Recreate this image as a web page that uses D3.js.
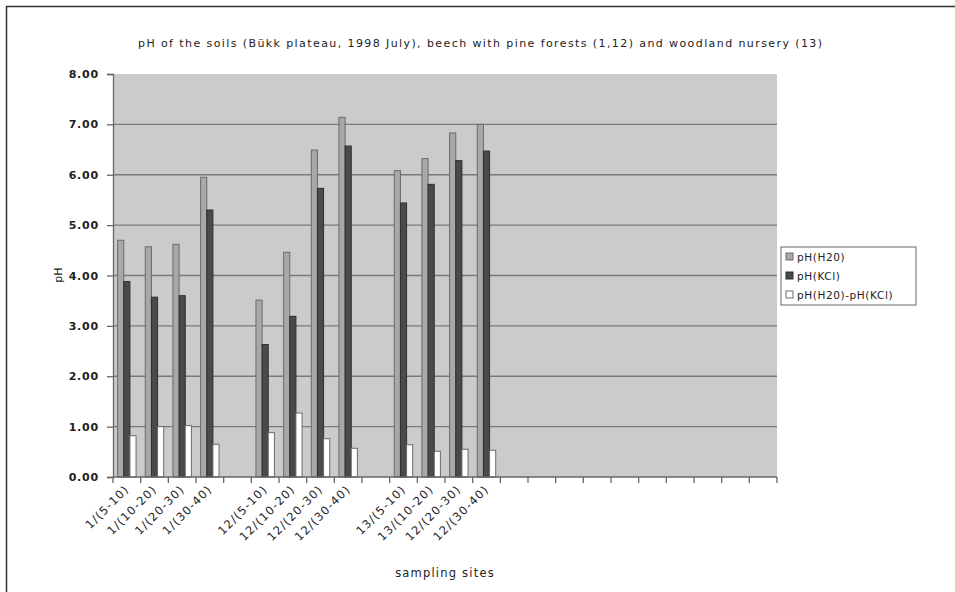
<!DOCTYPE html>
<html>
<head>
<meta charset="utf-8">
<script src="https://cdn.jsdelivr.net/npm/d3@7"></script>
<style>
  html, body { margin: 0; padding: 0; background: #fff; }
  svg { display: block; }
  text { font-family: "DejaVu Sans", Verdana, sans-serif; fill: #222; }
</style>
</head>
<body>
<script>
// Sampling sites (site / depth in cm); empty slots keep the gaps between sites
const categories = [
  "1/(5-10)", "1/(10-20)", "1/(20-30)", "1/(30-40)", "",
  "12/(5-10)", "12/(10-20)", "12/(20-30)", "12/(30-40)", "",
  "13/(5-10)", "13/(10-20)", "12/(20-30)", "12/(30-40)",
  "", "", "", "", "", "", "", "", "", ""
];
const phH2O = [4.70, 4.57, 4.62, 5.95, null, 3.51, 4.46, 6.49, 7.14, null, 6.08, 6.32, 6.83, 7.00];
const phKCl = [3.88, 3.57, 3.60, 5.30, null, 2.63, 3.19, 5.73, 6.57, null, 5.44, 5.81, 6.28, 6.47];
const phDiff = [0.82, 1.00, 1.02, 0.65, null, 0.88, 1.27, 0.76, 0.57, null, 0.64, 0.51, 0.55, 0.53];
const seriesNames = ["pH(H20)", "pH(KCl)", "pH(H20)-pH(KCl)"];
const yTicks = [0, 1, 2, 3, 4, 5, 6, 7, 8];

const W = 955, H = 592;
const plot = { left: 113, right: 777, top: 74, bottom: 477 };

const svg = d3.select("body").append("svg").attr("width", W).attr("height", H);

// outer chart frame
svg.append("path")
  .attr("d", `M6.5,${H + 5} V6.5 H${W + 5}`)
  .attr("fill", "none").attr("stroke", "#333").attr("stroke-width", 1.5);

const x = d3.scaleBand().domain(d3.range(categories.length))
  .range([plot.left, plot.right]).paddingInner(0).paddingOuter(0);
const y = d3.scaleLinear().domain([0, 8]).range([plot.bottom, plot.top]);

const seriesIdx = d3.range(3);
// bars take 3 of 4.5 bar-widths of each category (gap width 150%)
const barW = x.bandwidth() / 4.5;
const sub = d3.scaleBand().domain(seriesIdx)
  .range([barW * 0.75, barW * 3.75]);

// plot background
svg.append("rect")
  .attr("x", plot.left).attr("y", plot.top)
  .attr("width", plot.right - plot.left).attr("height", plot.bottom - plot.top)
  .attr("fill", "#cbcbcb");

// horizontal gridlines
svg.append("g").selectAll("line").data(yTicks.filter(t => t > 0 && t < 8)).join("line")
  .attr("x1", plot.left).attr("x2", plot.right)
  .attr("y1", d => y(d)).attr("y2", d => y(d))
  .attr("stroke", "#7a7a7a").attr("stroke-width", 1.3);

const series = [phH2O, phKCl, phDiff];
const fills = ["#a8a8a8", "#4a4a4a", "#ffffff"];
const strokes = ["#6a6a6a", "#2e2e2e", "#6a6a6a"];

series.forEach((vals, s) => {
  svg.append("g").selectAll("rect")
    .data(vals.map((v, i) => ({ v, i })).filter(d => d.v != null))
    .join("rect")
    .attr("x", d => x(d.i) + sub(s))
    .attr("width", sub.bandwidth())
    .attr("y", d => y(d.v))
    .attr("height", d => y(0) - y(d.v))
    .attr("fill", fills[s])
    .attr("stroke", strokes[s])
    .attr("stroke-width", 1);
});

// y axis
const yAxis = d3.axisLeft(y).tickValues(yTicks).tickFormat(d3.format(".2f"))
  .tickSize(6).tickPadding(8);
const gy = svg.append("g").attr("transform", `translate(${plot.left},0)`).call(yAxis);
gy.selectAll("path, line").attr("stroke", "#666").attr("stroke-width", 1.3);
gy.selectAll("text")
  .style("font-family", "'DejaVu Sans', Verdana, sans-serif")
  .attr("font-size", 11).attr("font-weight", "bold").attr("fill", "#555")
  .attr("letter-spacing", 0.8);

// x axis: ticks at category boundaries
const boundaries = d3.range(categories.length + 1).map(i => plot.left + i * x.bandwidth());
svg.append("line")
  .attr("x1", plot.left).attr("x2", plot.right)
  .attr("y1", plot.bottom).attr("y2", plot.bottom)
  .attr("stroke", "#666").attr("stroke-width", 1.3);
svg.append("g").selectAll("line").data(boundaries).join("line")
  .attr("x1", d => d).attr("x2", d => d)
  .attr("y1", plot.bottom).attr("y2", plot.bottom + 6)
  .attr("stroke", "#666").attr("stroke-width", 1.3);

// rotated category labels
svg.append("g").selectAll("text")
  .data(categories.map((c, i) => ({ c, i })).filter(d => d.c))
  .join("text")
  .attr("transform", d => `translate(${x(d.i) + x.bandwidth() / 2 + 3},${plot.bottom + 13}) rotate(-45)`)
  .attr("text-anchor", "end")
  .attr("font-size", 11.5)
  .attr("letter-spacing", 1.2)
  .attr("fill", "#333")
  .text(d => d.c);

// titles
svg.append("text")
  .attr("x", 480).attr("y", 47)
  .attr("text-anchor", "middle")
  .attr("font-size", 11)
  .attr("textLength", 684).attr("lengthAdjust", "spacing")
  .attr("fill", "#222")
  .text("pH of the soils (Bükk plateau, 1998 July), beech with pine forests (1,12) and woodland nursery (13)");

svg.append("text")
  .attr("transform", `translate(62,275) rotate(-90)`)
  .attr("text-anchor", "middle")
  .attr("font-size", 11).attr("fill", "#333")
  .text("pH");

svg.append("text")
  .attr("x", 445).attr("y", 577)
  .attr("text-anchor", "middle")
  .attr("font-size", 11.5).attr("letter-spacing", 1.2).attr("fill", "#333")
  .text("sampling sites");

// legend
const lg = svg.append("g").attr("transform", "translate(781,247)");
lg.append("rect").attr("width", 135).attr("height", 58)
  .attr("fill", "#fff").attr("stroke", "#666").attr("stroke-width", 1);
seriesNames.forEach((name, s) => {
  const row = lg.append("g").attr("transform", `translate(5,${10 + s * 19})`);
  row.append("rect").attr("x", 0).attr("y", -4).attr("width", 7).attr("height", 7)
    .attr("fill", fills[s]).attr("stroke", strokes[s]).attr("stroke-width", 1);
  row.append("text").attr("x", 11).attr("y", 4)
    .attr("font-size", 10.5).attr("letter-spacing", 0.6).attr("fill", "#333").text(name);
});
</script>
</body>
</html>
